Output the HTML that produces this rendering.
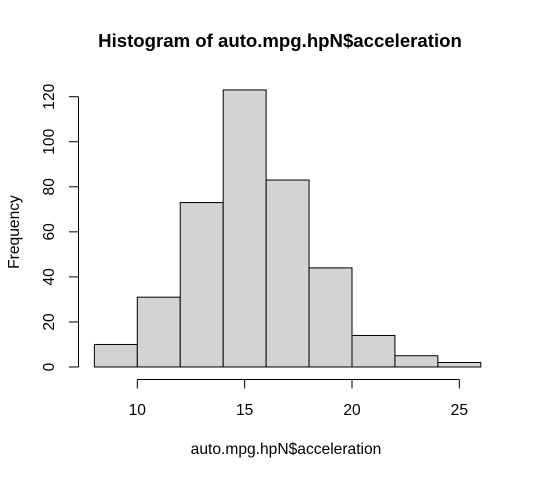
<!DOCTYPE html>
<html><head><meta charset="utf-8"><style>
html,body{margin:0;padding:0;background:#fff;}
svg{display:block;font-family:"Liberation Sans",Arial,sans-serif;}
</style></head><body>
<svg id="chart" width="537" height="477" viewBox="0 0 537 477">
<text x="280" y="47" text-anchor="middle" font-weight="bold" font-size="18.6">Histogram of auto.mpg.hpN$acceleration</text>
<g id="bars"></g>
<g id="xaxis"></g>
<g id="yaxis"></g>
<text x="286" y="454" text-anchor="middle" font-size="15.6">auto.mpg.hpN$acceleration</text>
<text transform="translate(19,232) rotate(-90)" text-anchor="middle" font-size="15.6">Frequency</text>
</svg>
<script>
const binStarts = [8,10,12,14,16,18,20,22,24];
const binWidth = 2;
const counts = [10,31,73,123,83,44,14,5,2];
const xTicks = [10,15,20,25];
const yTicks = [0,20,40,60,80,100,120];
const NS = "http://www.w3.org/2000/svg";
function xs(v){return 137.3 + (v-10)*21.47;}
function ys(v){return 367 - v*2.2525;}
function mk(tag, attrs, parent){const e=document.createElementNS(NS,tag);for(const k in attrs)e.setAttribute(k,attrs[k]);parent.appendChild(e);return e;}
const bars=document.getElementById('bars');
binStarts.forEach((b,i)=>{
  const r=mk('rect',{x:xs(b),y:ys(counts[i]),width:xs(b+binWidth)-xs(b),height:ys(0)-ys(counts[i]),fill:'#d3d3d3',stroke:'#000','stroke-width':1},bars);
  
  
});
const xa=document.getElementById('xaxis');
const xl=mk('line',{x1:xs(xTicks[0]),x2:xs(xTicks[xTicks.length-1]),y1:379.5,y2:379.5,stroke:'#000'},xa);


xTicks.forEach(t=>{
  const l=mk('line',{x1:xs(t),x2:xs(t),y1:379.5,y2:388.5,stroke:'#000'},xa);
  
  
  const tx=mk('text',{x:xs(t),y:415,'text-anchor':'middle','font-size':15.6},xa);
  tx.textContent=t;
  
  
});
const ya=document.getElementById('yaxis');
const yl=mk('line',{x1:78.5,x2:78.5,y1:ys(yTicks[0]),y2:ys(yTicks[yTicks.length-1]),stroke:'#000'},ya);


yTicks.forEach(t=>{
  const l=mk('line',{x1:69,x2:78.5,y1:ys(t),y2:ys(t),stroke:'#000'},ya);
  
  
  const tx=mk('text',{transform:'translate(54,'+ys(t)+') rotate(-90)','text-anchor':'middle','font-size':15.6},ya);
  tx.textContent=t;
  
  
});
</script>
</body></html>
